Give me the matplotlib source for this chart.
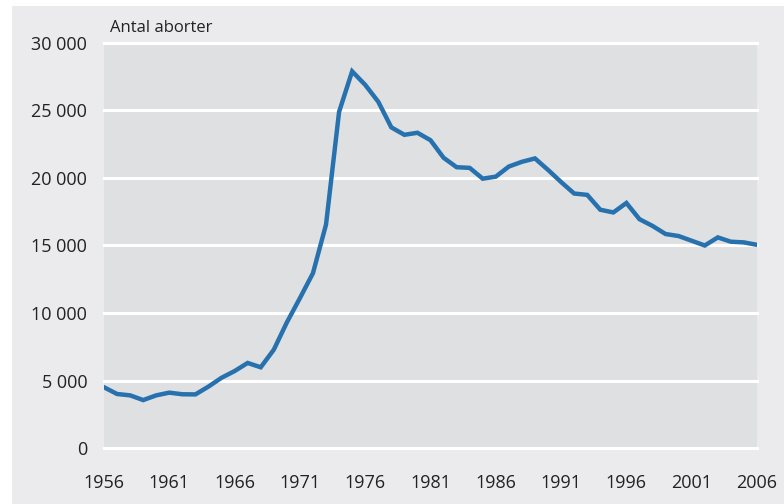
import matplotlib
matplotlib.use('Agg')
import matplotlib.pyplot as plt
from matplotlib.patches import Rectangle
from matplotlib.ticker import FuncFormatter

# Antal aborter per år
years = list(range(1956, 2007))
abortions = [4500, 4000, 3900, 3550, 3900, 4100, 3980, 3970, 4550, 5200,
             5700, 6300, 5980, 7280, 9300, 11100, 12950, 16550, 24900, 27900,
             26900, 25650, 23750, 23200, 23350, 22800, 21500, 20800, 20750, 19950,
             20100, 20850, 21200, 21450, 20600, 19700, 18850, 18750, 17650, 17450,
             18150, 16950, 16450, 15850, 15700, 15350, 15000, 15600, 15280, 15230,
             15050]
xticks = [1956, 1961, 1966, 1971, 1976, 1981, 1986, 1991, 1996, 2001, 2006]
yticks = [0, 5000, 10000, 15000, 20000, 25000, 30000]

plt.rcParams['font.family'] = ['Open Sans', 'DejaVu Sans']

fig = plt.figure(figsize=(7.84, 5.04), dpi=100, facecolor='white')
fig.patches.append(Rectangle((12 / 784, 0), 1, 1 - 6 / 504, transform=fig.transFigure,
                             facecolor='#EBEBED', edgecolor='none', zorder=-10))

ax = fig.add_axes([104 / 784, 56 / 504, 653 / 784, 405 / 504])
ax.set_facecolor('#DFE0E2')
for s in ax.spines.values():
    s.set_visible(False)

for yv in yticks:
    ax.axhline(yv, color='white', lw=2.2, zorder=1, clip_on=False)

ax.plot(years, abortions, color='#2771AE', lw=3.2, zorder=3, solid_joinstyle='miter')

ax.set_xlim(1956, 2006)
ax.set_ylim(0, 30000)
ax.set_xticks(xticks)
ax.set_yticks(yticks)
ax.yaxis.set_major_formatter(FuncFormatter(lambda v, p: f'{int(v):,}'.replace(',', ' ')))
ax.tick_params(length=0, labelsize=13, labelcolor='#222222')
ax.tick_params(axis='y', pad=12)
ax.tick_params(axis='x', pad=19)

fig.text(110 / 784, 1 - 28 / 504, 'Antal aborter', fontsize=12, color='#222222',
         ha='left', va='center')

fig.savefig('out.png', dpi=100, facecolor=fig.get_facecolor())
